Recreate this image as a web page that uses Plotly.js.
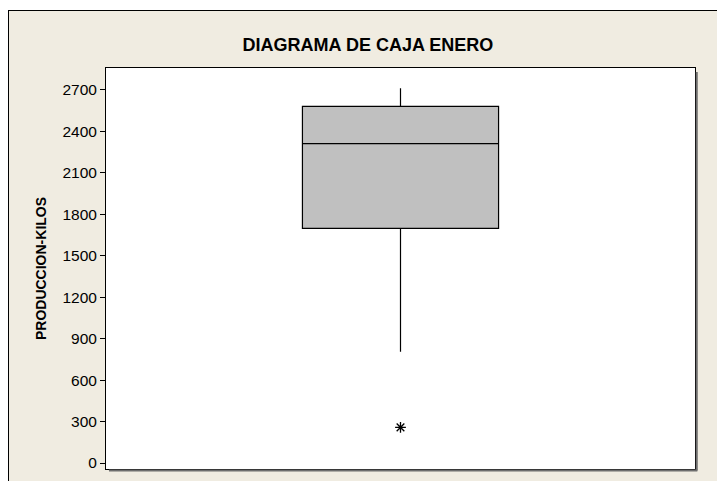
<!DOCTYPE html>
<html>
<head>
<meta charset="utf-8">
<script src="https://cdn.plot.ly/plotly-3.0.1.min.js"></script>
<style>
    body { margin: 0; background: #ffffff; }
    #frame {
        position: absolute; left: 8px; top: 10px;
        width: 708px; height: 470px;
        border-left: 1px solid #000; border-top: 1px solid #000;
        background: #F0ECE1;
    }
</style>
</head>
<body>
<div id="frame"><div id="boxPlot"></div></div>
<script>
// valores (produccion en kilos, enero)
var posicion = [0];
var q1 = [1699];
var mediana = [2311];
var q3 = [2582];
var bigoteInf = [806];
var bigoteSup = [2712];
var atipicos = [258];
var ticksY = [0, 300, 600, 900, 1200, 1500, 1800, 2100, 2400, 2700];

var caja = {
    type: "box",
    x: posicion,
    q1: q1,
    median: mediana,
    q3: q3,
    lowerfence: bigoteInf,
    upperfence: bigoteSup,
    width: 0.333,
    whiskerwidth: 0,
    fillcolor: "#C0C0C0",
    line: {color: "#000", width: 1.2},
    hoverinfo: "skip",
    showlegend: false
};

var puntos = {
    type: "scatter",
    mode: "markers",
    x: atipicos.map(function() { return posicion[0]; }),
    y: atipicos,
    marker: {symbol: "asterisk-open", size: 9, color: "#000", line: {color: "#000", width: 1.3}},
    hoverinfo: "skip",
    showlegend: false
};

var layout = {
    width: 708,
    height: 470,
    margin: {l: 97, r: 22, t: 57, b: 12},
    paper_bgcolor: "#F0ECE1",
    plot_bgcolor: "#ffffff",
    font: {family: "Liberation Sans, Arial, sans-serif", color: "#000", size: 15.5},
    title: {
        text: "<b>DIAGRAMA DE CAJA ENERO</b>",
        font: {size: 18, color: "#000"},
        xref: "container", x: 0.507, xanchor: "center",
        yref: "container", y: 0.928, yanchor: "middle"
    },
    xaxis: {
        range: [-0.5, 0.5],
        showticklabels: false, ticks: "", showgrid: false, zeroline: false,
        showline: true, mirror: true, linecolor: "#000", linewidth: 1
    },
    yaxis: {
        range: [-43, 2859],
        tickvals: ticksY,
        ticks: "outside", ticklen: 5, tickcolor: "#000",
        showgrid: false, zeroline: false,
        showline: true, mirror: true, linecolor: "#000", linewidth: 1,
        title: {text: "<b>PRODUCCION-KILOS</b>", font: {size: 14}, standoff: 12}
    },
    shapes: [
        {type: "line", xref: "paper", yref: "paper", x0: 1.003, x1: 1.003, y0: -0.004, y1: 0.99,
         line: {color: "#6e6e6e", width: 2}},
        {type: "line", xref: "paper", yref: "paper", x0: 0.005, x1: 1.004, y0: -0.004, y1: -0.004,
         line: {color: "#6e6e6e", width: 2}}
    ]
};

Plotly.newPlot("boxPlot", [caja, puntos], layout, {displayModeBar: false, staticPlot: true});
</script>
</body>
</html>
